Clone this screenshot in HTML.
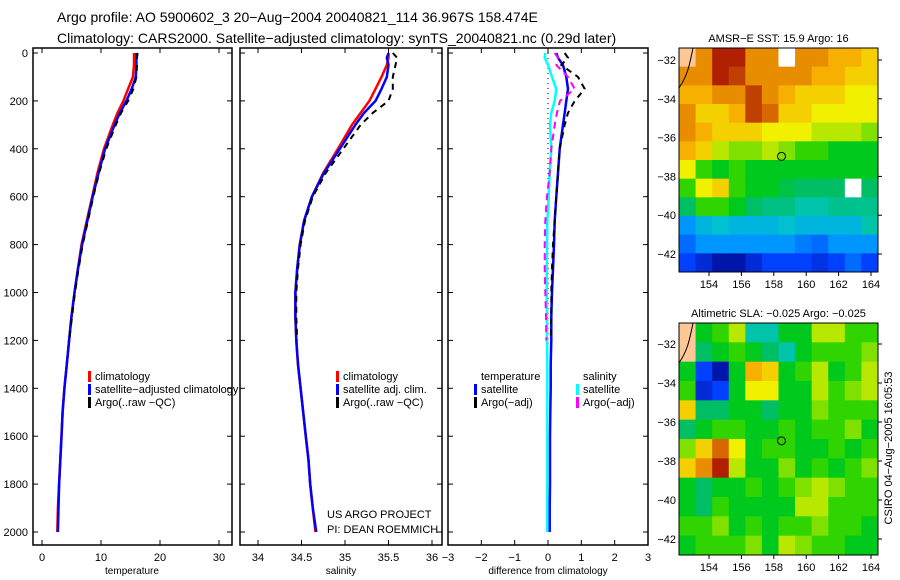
<!DOCTYPE html>
<html><head><meta charset="utf-8"><style>
body{margin:0;background:#fff}
svg{display:block;font-family:"Liberation Sans",sans-serif}
</style></head><body>
<svg id="s" width="900" height="580" viewBox="0 0 900 580">
<text x="57" y="22" font-size="14">Argo profile: AO 5900602_3 20−Aug−2004 20040821_114 36.967S 158.474E</text>
<text x="57" y="43" font-size="14">Climatology: CARS2000. Satellite−adjusted climatology: synTS_20040821.nc (0.29d later)</text>
</svg>
<script>
const depths=[0,20,50,100,150,200,250,300,400,500,600,700,800,900,1000,1100,1200,1300,1400,1500,1600,1700,1800,1900,2000];
const argoDepths=[0,20,50,100,150,200,250,300,400,500,600,700,800,900,1000,1100,1200];
const climT=[15.6,15.6,15.6,15.4,14.6,13.8,12.8,12,10.5,9.4,8.5,7.6,6.7,6.1,5.5,5,4.6,4.2,3.8,3.5,3.3,3.1,2.9,2.7,2.6];
const satT=[16.0,16.0,16.0,15.9,15.2,14.3,13.2,12.3,10.7,9.6,8.6,7.7,6.8,6.1,5.5,5,4.6,4.2,3.8,3.5,3.3,3.1,2.9,2.8,2.7];
const argoT=[16.2,16.1,16.1,16.0,15.5,14.6,13.4,12.5,10.9,9.7,8.7,7.8,6.9,6.2,5.6,5.1,4.6];
const climS=[35.5,35.5,35.48,35.42,35.35,35.28,35.18,35.08,34.92,34.75,34.62,34.53,34.48,34.45,34.43,34.43,34.44,34.46,34.49,34.52,34.55,34.58,34.6,34.63,34.66];
const satS=[35.5,35.48,35.5,35.48,35.42,35.35,35.22,35.12,34.94,34.76,34.62,34.53,34.48,34.45,34.43,34.43,34.44,34.46,34.49,34.52,34.55,34.58,34.6,34.63,34.67];
const argoS=[35.55,35.6,35.58,35.55,35.55,35.5,35.32,35.18,34.98,34.78,34.63,34.54,34.49,34.46,34.44,34.44,34.45];
const satTdiff=[0.25,0.3,0.45,0.55,0.6,0.55,0.5,0.45,0.35,0.3,0.25,0.2,0.18,0.15,0.12,0.1,0.1,0.08,0.08,0.07,0.06,0.06,0.06,0.05,0.05];
const argoTdiff=[0.5,0.6,0.4,0.9,1.1,0.8,0.6,0.5,0.35,0.3,0.25,0.2,0.15,0.12,0.1,0.1,0.08];
const satSdiff=[-0.08,-0.1,0,0.12,0.25,0.2,0.1,0.06,0.1,0.05,0.02,-0.02,-0.03,-0.04,-0.04,-0.03,-0.03,-0.02,-0.02,-0.02,-0.02,-0.02,-0.02,-0.02,-0.02];
const argoSdiff=[0.2,0.3,0.25,0.6,0.8,0.36,0.27,0.2,0.1,0.05,-0.03,-0.08,-0.1,-0.1,-0.08,-0.06,-0.05];
const depthTicks=[0,200,400,600,800,1000,1200,1400,1600,1800,2000];
const tTicks=[0,10,20,30];
const sTicks=[34,34.5,35,35.5,36];
const dTicks=[-3,-2,-1,0,1,2,3];
const sstGrid=[
[-1,8,9.5,9.5,8,8,-2,8,8,7.5,7.5,7],
[8,8,9.5,9,8,8,8,8,7.5,7.5,7,7],
[7.5,7.5,8,8,9,8,7.5,7,7,7,6.5,6.5],
[8,7,7,7.5,9,8.5,7,7,6.5,6.5,6.5,6.5],
[8,7.5,7,7,7,6.5,6.5,6.5,6,6,6,5.5],
[7.5,7,6,5.5,5.5,6,5.5,5,5,4.5,4.5,4.5],
[6.5,5,4.5,5,4.5,4.5,4.5,4.5,4.5,4.5,4.5,4.5],
[5,6.5,7,5,4.5,4.5,4.2,4,4,4,-2,4],
[4,5,5,4.5,4,3.8,3.8,3.5,3.5,3.7,3.7,3.7],
[2.5,3,3.2,3,3,3,3.2,3,3,3,3,3.5],
[2,2.5,2.5,2.5,2.5,2.5,2.5,2.2,2,2.5,2.5,2.5],
[1.5,1,0.5,0.5,1,1.5,1.5,1.5,1.2,1.5,2,1.5]];
const slaGrid=[
[-1,4.5,5,6,3.5,3.5,4.5,4.5,6,6,5,5],
[-1,4,4.5,5,4.5,4,3.5,4.5,5,5,5,5.5],
[4.5,1.5,0.5,4.5,7.5,7,4.5,5,6,4.5,5,6],
[5,1,1.5,4.5,6.5,6.5,4.5,4.5,6,5,5.5,6],
[7,4,4,4.5,4.5,4,4.5,4.5,5.5,5,5,5],
[4,4.5,5,5,4.5,4.5,5,4.5,5,5,5.5,4.5],
[5.5,7,8.5,6.5,4.5,5,5,4.5,4.5,5,4.5,5],
[7,8,9.5,6,4.5,4.5,5.5,4.5,5,4.5,5,5.5],
[4.5,4,4.5,4.5,5,4.5,5,5.5,6,5.5,5,5],
[4.5,4,5,4.5,4.5,4.5,4.5,6,6,5,5,5],
[5,5,5.5,4.5,5,4.5,5,5,5.5,5,5,4.5],
[4.5,5,5,5,5.5,4.5,6,5.5,5,5,4.5,4.5]];
const latTicks=[-32,-34,-36,-38,-40,-42];
const lonTicks=[154,156,158,160,162,164];
const argoLon=158.474, argoLat=-36.967;

const S=document.getElementById('s');const NS='http://www.w3.org/2000/svg';
function mk(t,a,p){const e=document.createElementNS(NS,t);for(const k in a)e.setAttribute(k,a[k]);(p||S).appendChild(e);return e;}
const pTop=48,pBot=545;
const yD=d=>53+d*(532-53)/2000;
const xT=v=>42+v*(219-42)/30;
const xS=v=>258+(v-34)*(432-258)/2;
const xD=v=>548+v*(648-448)/6;
function frame(x0,x1,name){const r=mk('rect',{x:x0,y:pTop,width:x1-x0,height:pBot-pTop,fill:'none',stroke:'#000','stroke-width':1.5});


depthTicks.forEach(d=>{mk('line',{x1:x0,x2:x0+5,y1:yD(d),y2:yD(d),stroke:'#000'});mk('line',{x1:x1,x2:x1-5,y1:yD(d),y2:yD(d),stroke:'#000'});});}
function xticks(ticks,f,label,cx,name){ticks.forEach(v=>{mk('line',{x1:f(v),x2:f(v),y1:pTop,y2:pTop+5,stroke:'#000'});mk('line',{x1:f(v),x2:f(v),y1:pBot,y2:pBot-5,stroke:'#000'});
const t=mk('text',{x:f(v),y:561,'font-size':11,'text-anchor':'middle'});t.textContent=(v<0?'−'+(-v):v);

});
const l=mk('text',{x:cx,y:574,'font-size':10,'text-anchor':'middle'});l.textContent=label;

}
function line(ds,vs,f,color,dash,name,w){const pts=vs.map((v,i)=>f(v).toFixed(1)+','+yD(ds[i]).toFixed(1)).join(' ');
const p=mk('polyline',{points:pts,fill:'none',stroke:color,'stroke-width':w||2.5,'stroke-dasharray':dash||'none'});

}
frame(33,232,'temperature-panel');frame(240,442,'salinity-panel');frame(448,648,'difference-panel');
depthTicks.forEach(d=>{const t=mk('text',{x:28,y:yD(d)+4,'font-size':11,'text-anchor':'end'});t.textContent=d;

});
xticks(tTicks,xT,'temperature',132,'x-axis-title-temperature');
xticks(sTicks,xS,'salinity',341,'x-axis-title-salinity');
xticks(dTicks,xD,'difference from climatology',548,'x-axis-title-difference');
line(depths,climT,xT,'#f00',null,'temp-climatology-line');
line(depths,satT,xT,'#00f',null,'temp-satellite-line');
line(argoDepths,argoT,xT,'#000','6 6','temp-argo-line',2);
line(depths,climS,xS,'#f00',null,'sal-climatology-line');
line(depths,satS,xS,'#00f',null,'sal-satellite-line');
line(argoDepths,argoS,xS,'#000','6 5','sal-argo-line',2);
mk('line',{x1:xD(0),x2:xD(0),y1:yD(0),y2:yD(2000),stroke:'#000','stroke-dasharray':'1 4'});
line(depths,satTdiff,xD,'#00f',null,'diff-temp-satellite-line');
line(argoDepths,argoTdiff,xD,'#000','6 5','diff-temp-argo-line',2);
line(depths,satSdiff,xD,'#0ff',null,'diff-sal-satellite-line');
line(argoDepths,argoSdiff,xD,'#f0f','7 5','diff-sal-argo-line',2);
function legend(x,y,items,name){items.forEach((it,i)=>{const yy=y+i*13;
if(it[1])mk('rect',{x:x,y:yy-9,width:3,height:11,fill:it[1]});
const t=mk('text',{x:x+7,y:yy,'font-size':11});t.textContent=it[0];

});}
legend(88,380,[['climatology','#f00'],['satellite−adjusted climatology','#00f'],['Argo(..raw −QC)','#000']],'temp-legend');
legend(336,380,[['climatology','#f00'],['satellite adj. clim.','#00f'],['Argo(..raw −QC)','#000']],'sal-legend');
legend(474,380,[['temperature',null],['satellite','#00f'],['Argo(−adj)','#000']],'diff-temp-legend');
legend(576,380,[['salinity',null],['satellite','#0ff'],['Argo(−adj)','#f0f']],'diff-sal-legend');
[['US ARGO PROJECT',518],['PI: DEAN ROEMMICH',533]].forEach(a=>{const t=mk('text',{x:327,y:a[1],'font-size':11});t.textContent=a[0];

});
const cStops=[[0,[0,0,128]],[1.5,[0,64,255]],[2.5,[0,150,255]],[3.3,[0,200,200]],[4,[0,190,100]],[4.7,[0,205,0]],[5.5,[128,224,0]],[6.5,[240,240,0]],[7.5,[248,176,0]],[8.3,[224,120,0]],[9,[192,64,0]],[10,[160,0,0]]];
function cmap(v){for(let i=1;i<cStops.length;i++){if(v<=cStops[i][0]){const a=cStops[i-1],b=cStops[i],f=(v-a[0])/(b[0]-a[0]);
return 'rgb('+a[1].map((c,k)=>Math.round(c+(b[1][k]-c)*f)).join(',')+')';}}return 'rgb(160,0,0)';}
function drawMap(grid,x0,x1,y0,y1,lat32,lat42,title,name){
const xL=v=>709+(v-154)*(871-709)/10;const yL=v=>lat32+(v+32)*(lat42-lat32)/(-10);
const nr=grid.length,nc=grid[0].length,cw=(x1-x0)/nc,ch=(y1-y0)/nr;
grid.forEach((row,r)=>row.forEach((v,c)=>{const e=mk('rect',{x:x0+c*cw,y:y0+r*ch,width:cw+0.5,height:ch+0.5,fill:v==-1?'#fdc896':v==-2?'#fff':cmap(v)});

}));
mk('path',{d:`M${x0+14},${y0} C${x0+10},${y0+20} ${x0+8},${y0+28} ${x0},${y0+40}`,fill:'none',stroke:'#000'});
const b=mk('rect',{x:x0,y:y0,width:x1-x0,height:y1-y0,fill:'none',stroke:'#000'});


latTicks.forEach(v=>{mk('line',{x1:x1,x2:x1+4,y1:yL(v),y2:yL(v),stroke:'#000'});
const t=mk('text',{x:x0-3,y:yL(v)+4,'font-size':11,'text-anchor':'end'});t.textContent='−'+(-v);

});
lonTicks.forEach(v=>{mk('line',{x1:xL(v),x2:xL(v),y1:y1,y2:y1+4,stroke:'#000'});
const t=mk('text',{x:xL(v),y:y1+16,'font-size':11,'text-anchor':'middle'});t.textContent=v;

});
const c=mk('circle',{cx:xL(argoLon),cy:yL(argoLat),r:4,fill:'none',stroke:'#000'});


const t=mk('text',{x:(x0+x1)/2,y:y0-6,'font-size':11,'text-anchor':'middle'});t.textContent=title;

}
drawMap(sstGrid,679,878,48,272,60,254,'AMSR−E SST: 15.9 Argo: 16','sst-map');
drawMap(slaGrid,679,878,323,555,344,539,'Altimetric SLA: −0.025 Argo: −0.025','sla-map');
const cr=mk('text',{x:0,y:0,'font-size':11,'text-anchor':'middle',transform:'translate(892,448) rotate(-90)'});cr.textContent='CSIRO 04−Aug−2005 16:05:53';


</script>
</body></html>
